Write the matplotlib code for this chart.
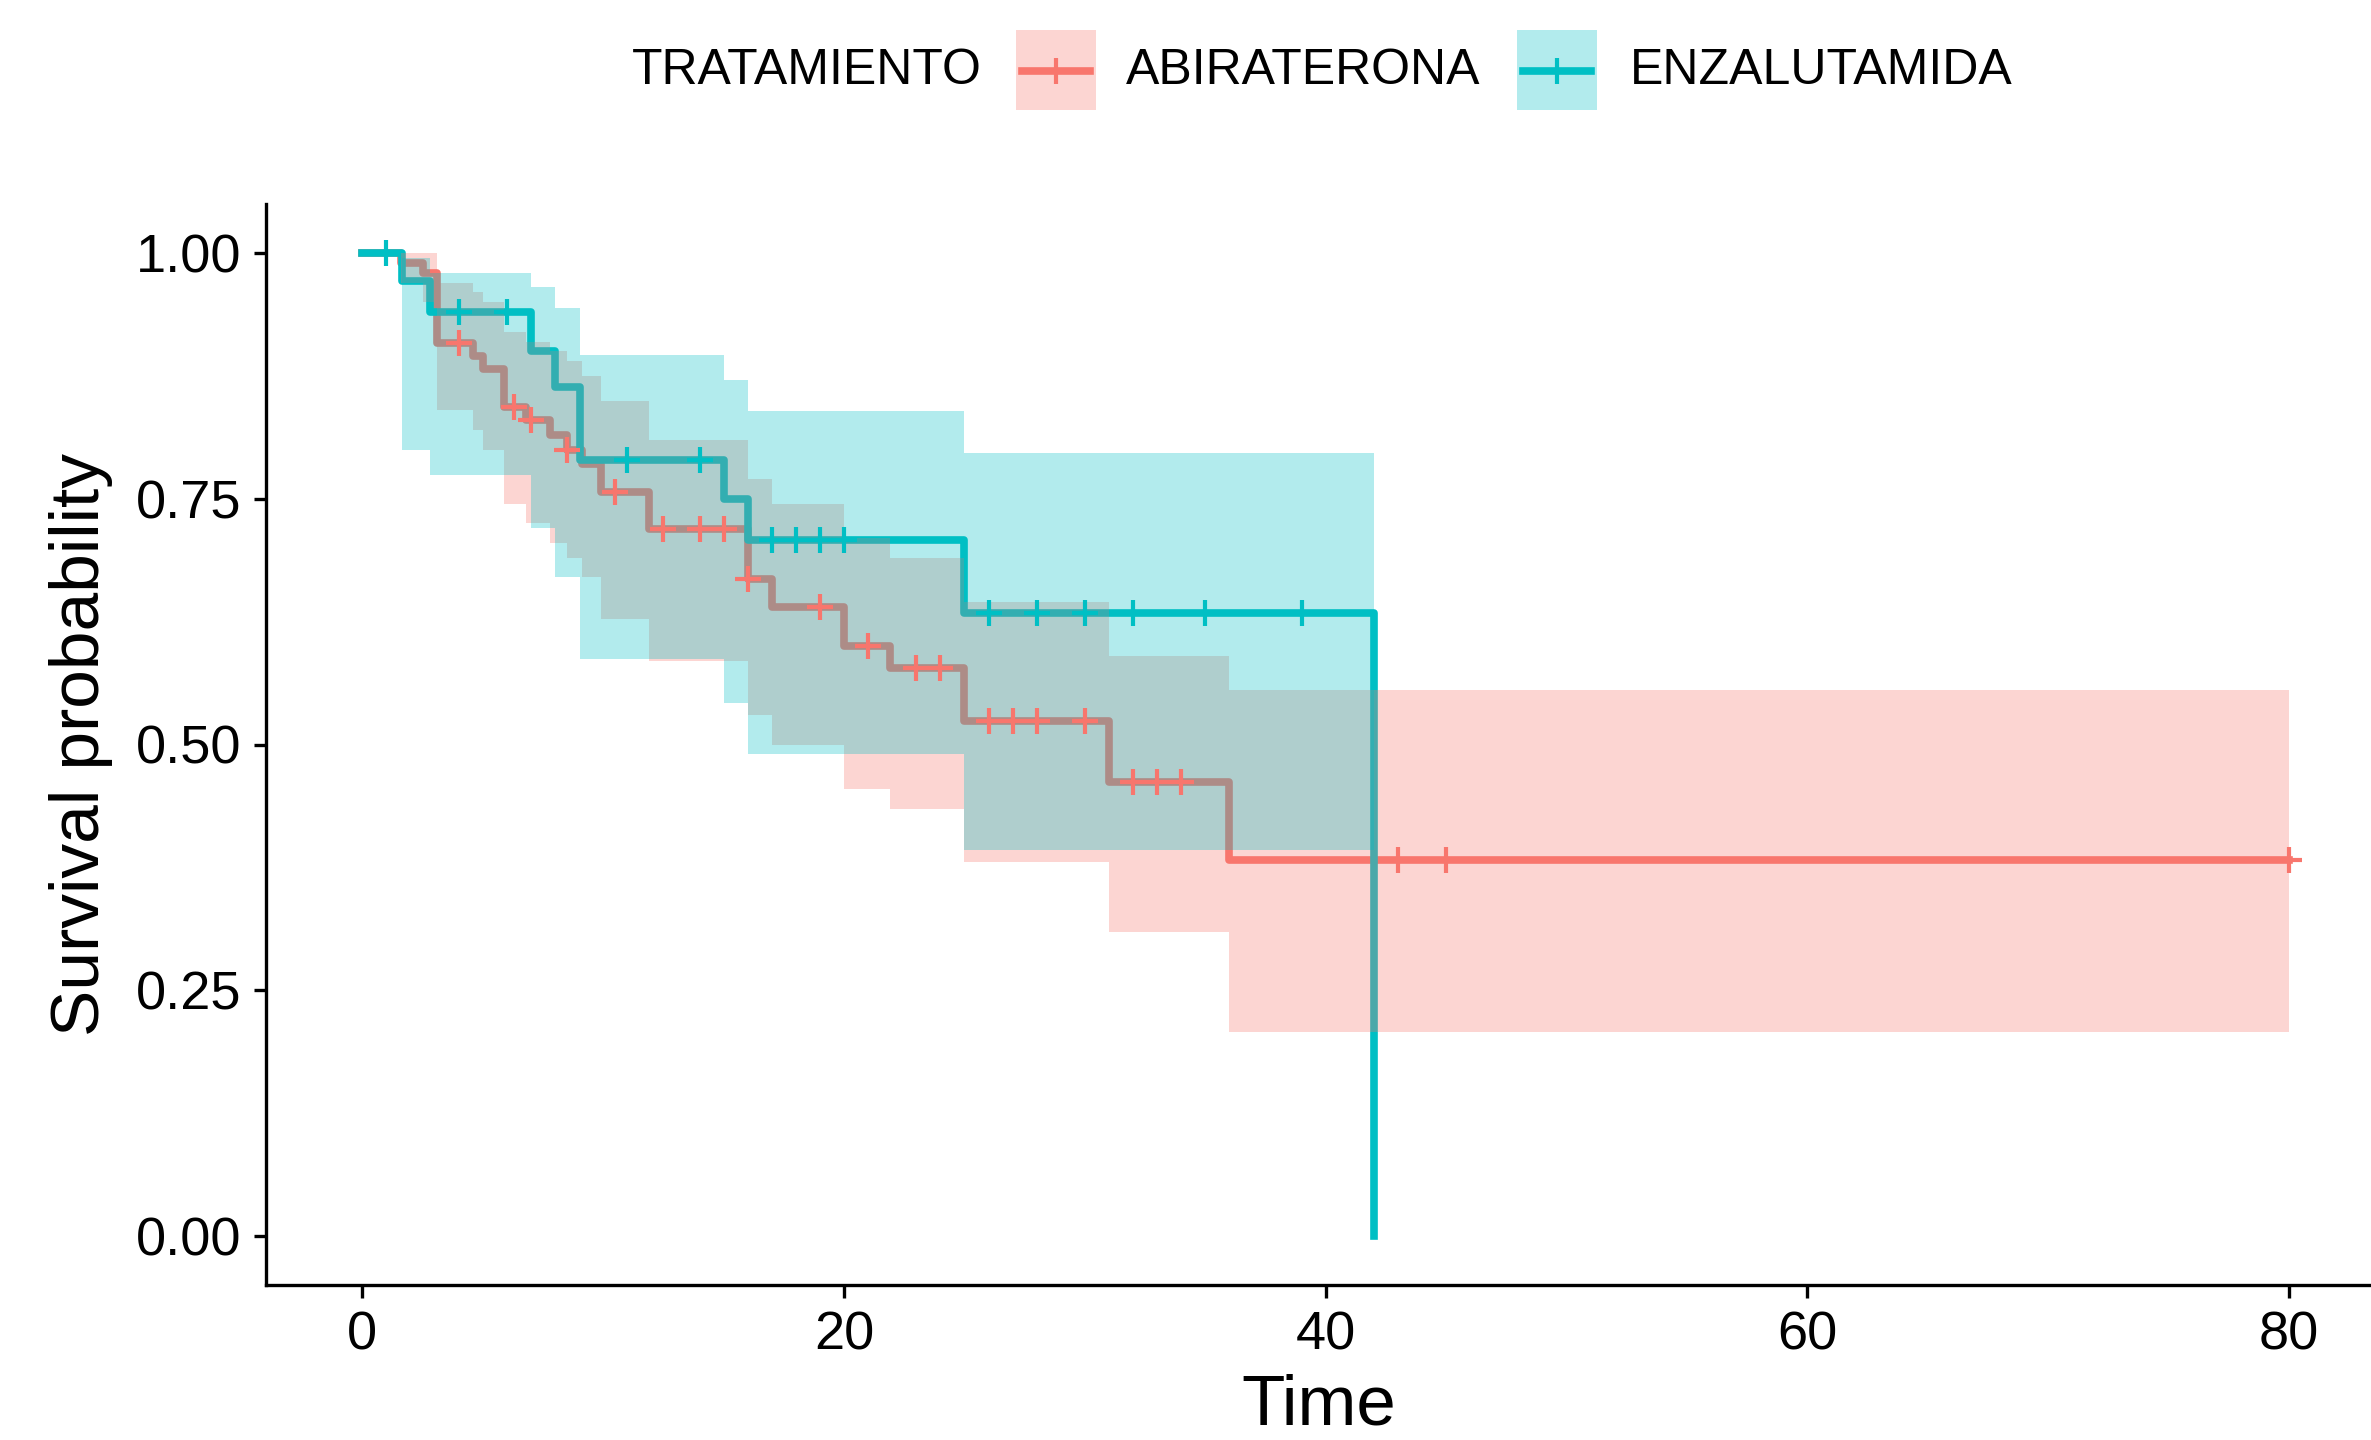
import numpy as np
import matplotlib
matplotlib.use("Agg")
import matplotlib.pyplot as plt
from matplotlib.patches import Rectangle
from matplotlib.lines import Line2D

plt.rcParams['font.family'] = ['Liberation Sans', 'DejaVu Sans']

# -----------------------------
# Data
# -----------------------------
GROUPS = ["ABIRATERONA", "ENZALUTAMIDA"]
COLORS = {"ABIRATERONA": "#F8766D", "ENZALUTAMIDA": "#00BFC4"}

# ABIRATERONA: step start times, survival, 95% CI
abi_time = [0, 1.6, 2.5, 3.1, 4.6, 5.0, 5.9, 6.8, 7.8, 8.5, 9.1, 9.9, 11.9, 16.0, 17.0, 20.0, 21.9, 25.0, 31.0, 36.0]
abi_surv = [1.0, 0.99, 0.98, 0.909, 0.895, 0.882, 0.843, 0.83, 0.815, 0.80, 0.785, 0.757, 0.719, 0.668, 0.640, 0.600, 0.578, 0.524, 0.462, 0.382]
abi_upper = [1.0, 1.0, 1.0, 0.97, 0.96, 0.95, 0.92, 0.91, 0.90, 0.89, 0.875, 0.85, 0.81, 0.77, 0.745, 0.71, 0.69, 0.645, 0.59, 0.555]
abi_lower = [1.0, 0.97, 0.95, 0.84, 0.82, 0.80, 0.745, 0.725, 0.705, 0.69, 0.67, 0.628, 0.585, 0.53, 0.50, 0.455, 0.434, 0.38, 0.309, 0.207]
abi_end = 80.0
abi_censor = [4.0, 6.3, 7.0, 8.5, 10.5, 12.5, 14.0, 15.0, 16.0, 19.0, 21.0, 23.0, 24.0,
              26.0, 27.0, 28.0, 30.0, 32.0, 33.0, 34.0, 43.0, 45.0, 80.0]

# ENZALUTAMIDA (last step drops to 0 at t=42)
enz_time = [0, 1.65, 2.8, 7.0, 8.0, 9.05, 15.0, 16.0, 25.0, 42.0]
enz_surv = [1.0, 0.972, 0.94, 0.90, 0.864, 0.79, 0.75, 0.708, 0.634, 0.0]
enz_upper = [1.0, 0.995, 0.98, 0.966, 0.944, 0.896, 0.871, 0.839, 0.797]
enz_lower = [1.0, 0.80, 0.774, 0.72, 0.67, 0.587, 0.542, 0.49, 0.393]
enz_end = 42.0
enz_censor = [1.0, 4.0, 6.0, 11.0, 14.0, 17.0, 18.0, 19.0, 20.0,
              26.0, 28.0, 30.0, 32.0, 35.0, 39.0]

x_ticks = [0, 20, 40, 60, 80]
y_ticks = [0.0, 0.25, 0.50, 0.75, 1.00]
y_ticklabels = ["0.00", "0.25", "0.50", "0.75", "1.00"]

curves = {
    "ABIRATERONA": (abi_time, abi_surv, abi_upper, abi_lower, abi_end, abi_censor),
    "ENZALUTAMIDA": (enz_time, enz_surv, enz_upper, enz_lower, enz_end, enz_censor),
}

LW = 5.5
MS = 19
MEW = 3.0

# -----------------------------
# Figure
# -----------------------------
W, H = 2371, 1440
fig = plt.figure(figsize=(W / 100, H / 100), dpi=100)
ax = fig.add_axes([266 / W, 1 - 1285 / H, (W - 266) / W, (1285 - 204) / H])

for name in GROUPS:
    t, s, up, lo, end, cens = curves[name]
    col = COLORS[name]
    # survival line
    if s[-1] == 0:
        ax.step(t, s, where="post", color=col, lw=LW, zorder=2)
    else:
        ax.step(list(t) + [end], list(s) + [s[-1]], where="post", color=col, lw=LW, zorder=2)

for name in GROUPS:
    t, s, up, lo, end, cens = curves[name]
    col = COLORS[name]
    n = len(up)
    bt = list(t[:n]) + [end]
    ax.fill_between(bt, list(lo) + [lo[-1]], list(up) + [up[-1]], step="post",
                    color=col, alpha=0.3, lw=0, zorder=3)

for name in GROUPS:
    t, s, up, lo, end, cens = curves[name]
    col = COLORS[name]
    idx = np.searchsorted(t, cens, side="right") - 1
    cy = np.array(s)[idx]
    ax.plot(cens, cy, ls="none", marker="+", ms=MS, mew=MEW, color=col, zorder=4)

ax.set_xlim(-4, 83.4)
ax.set_ylim(-0.05, 1.05)
ax.set_xticks(x_ticks)
ax.set_yticks(y_ticks)
ax.set_yticklabels(y_ticklabels)
for sp in ["top", "right"]:
    ax.spines[sp].set_visible(False)
for sp in ["left", "bottom"]:
    ax.spines[sp].set_linewidth(2.4)
ax.tick_params(axis="both", labelsize=39, length=9, width=2.4, pad=9, colors="black")
ax.set_xlabel("Time", fontsize=51, labelpad=10)
ax.set_ylabel("Survival probability", fontsize=50, labelpad=16)

# -----------------------------
# Legend on top (ggplot style)
# -----------------------------
ly = 1 - 71 / H
fig.text(632 / W, ly, "TRATAMIENTO", fontsize=36, va="center", ha="left")
key_x = [1016, 1517]
lab_x = [1126, 1630]
for name, kx, lx in zip(GROUPS, key_x, lab_x):
    col = COLORS[name]
    fig.add_artist(Rectangle((kx / W, 1 - 110 / H), 80 / W, 80 / H,
                             transform=fig.transFigure, color=col, alpha=0.3, lw=0))
    fig.add_artist(Line2D([(kx + 6) / W, (kx + 74) / W], [ly, ly],
                          transform=fig.transFigure, color=col, lw=LW))
    fig.add_artist(Line2D([(kx + 40) / W], [ly], transform=fig.transFigure,
                          marker="+", ms=MS, mew=MEW, color=col))
    fig.text(lx / W, ly, name, fontsize=36, va="center", ha="left")

fig.savefig("out.png", dpi=100)
